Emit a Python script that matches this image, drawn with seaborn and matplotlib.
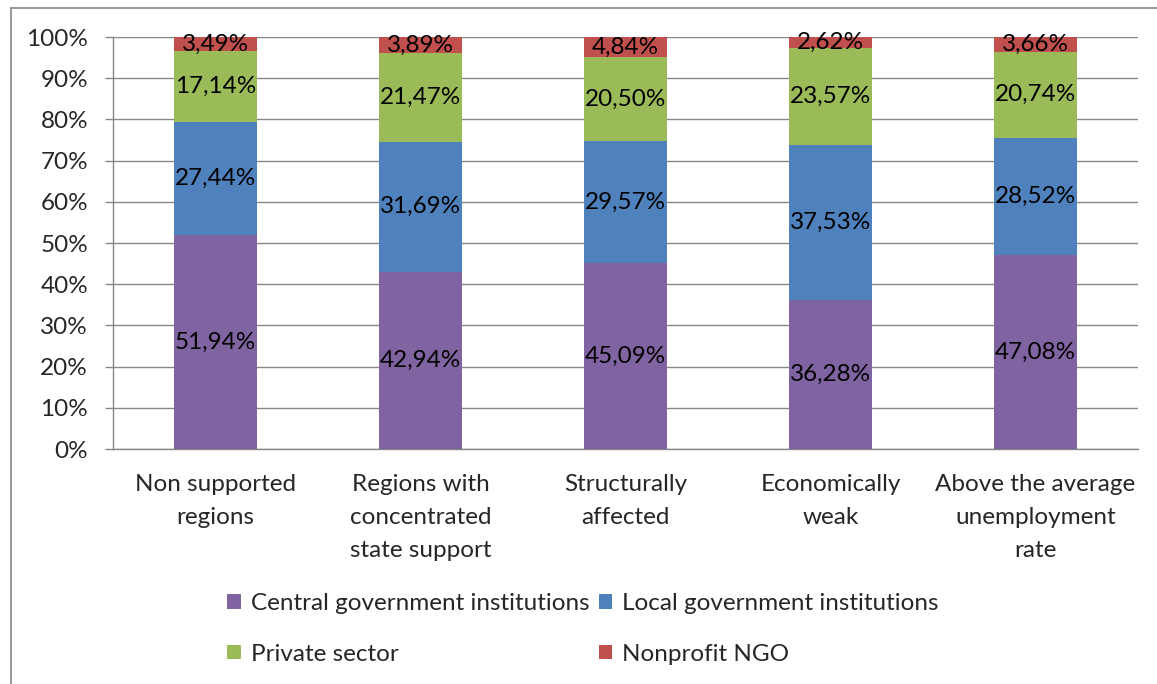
import matplotlib
matplotlib.use("Agg")
import matplotlib.pyplot as plt
import seaborn as sns
import numpy as np
import pandas as pd
from matplotlib.patches import Patch
from matplotlib.lines import Line2D

categories = ["Non supported\nregions", "Regions with\nconcentrated\nstate support",
              "Structurally\naffected", "Economically\nweak",
              "Above the average\nunemployment\nrate"]
series_names = ["Central government institutions", "Local government institutions",
                "Private sector", "Nonprofit NGO"]
central = [51.94, 42.94, 45.09, 36.28, 47.08]
local = [27.44, 31.69, 29.57, 37.53, 28.52]
private = [17.14, 21.47, 20.50, 23.57, 20.74]
ngo = [3.49, 3.89, 4.84, 2.62, 3.66]
colors = ["#8064A2", "#4F81BD", "#9BBB59", "#C0504D"]
yticks = [0, 10, 20, 30, 40, 50, 60, 70, 80, 90, 100]

sns.set_style("white")
plt.rcParams['font.family'] = ['Lato', 'DejaVu Sans']
FS = 17.5

fig = plt.figure(figsize=(11.57, 6.84), dpi=100)
ax = fig.add_axes([113/1157, 1-449/684, (1138-113)/1157, (449-37)/684])

series = [central, local, private, ngo]
cum = np.cumsum(np.array(series), axis=0)
# draw from top layer down so lower layers overlay
for i in range(3, -1, -1):
    df = pd.DataFrame({"cat": categories, "val": cum[i]})
    sns.barplot(data=df, x="cat", y="val", color=colors[i], width=0.405,
                saturation=1, ax=ax, linewidth=0, zorder=3)

for i in range(4):
    for j in range(len(categories)):
        bottom = cum[i][j] - series[i][j]
        yc = bottom + series[i][j] / 2
        ax.text(j, yc, f"{series[i][j]:.2f}%".replace(".", ","), ha="center",
                va="center", fontsize=FS, color="black", zorder=5)

ax.set_ylim(0, 100)
ax.set_xlim(-0.5, len(categories) - 0.5)
ax.set_yticks(yticks)
ax.set_yticklabels([f"{v}%" for v in yticks], fontsize=FS)
ax.set_xlabel("")
ax.set_ylabel("")
ax.tick_params(axis="x", which="major", length=0, pad=18, labelsize=FS)
ax.set_xticks(np.arange(-0.5, len(categories), 1.0), minor=True)
ax.tick_params(axis="x", which="minor", length=6, color="#868686", width=1)
ax.tick_params(axis="y", length=6, color="#868686", width=1, pad=12, left=True)
for lab in ax.get_xticklabels():
    lab.set_linespacing(1.7)
ax.yaxis.grid(True, color="#868686", linewidth=1)
ax.set_axisbelow(True)
for s in ["top", "right"]:
    ax.spines[s].set_visible(False)
for s in ["left", "bottom"]:
    ax.spines[s].set_color("#868686")
    ax.spines[s].set_linewidth(1)

handles = [Patch(facecolor=c, edgecolor="none") for c in colors]
order = [0, 2, 1, 3]
fig.legend([handles[k] for k in order], [series_names[k] for k in order],
           ncol=2, loc="center", bbox_to_anchor=(583/1157, 1-629/684),
           frameon=False, fontsize=FS, handlelength=0.55, handleheight=0.55,
           handletextpad=0.4, columnspacing=0.4, labelspacing=1.2)

# outer border
fig.add_artist(Line2D([10.5/1157, 10.5/1157], [0, 1-8/684], color="#868686", lw=1.2,
                      transform=fig.transFigure))
fig.add_artist(Line2D([10.5/1157, 1], [1-8/684, 1-8/684], color="#868686", lw=1.2,
                      transform=fig.transFigure))

fig.savefig("out.png", dpi=100)
